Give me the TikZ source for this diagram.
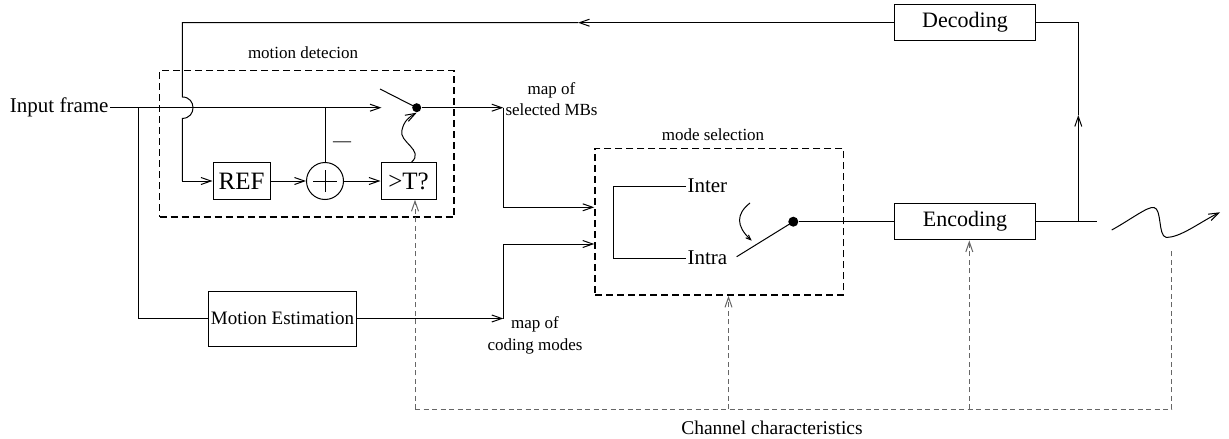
\documentclass[tikz,border=0pt]{standalone}
\usepackage{fontspec}
\setmainfont{Liberation Serif}
\usetikzlibrary{arrows.meta,positioning,calc}
\newcommand{\fsz}[2]{\fontsize{#1}{#2}\selectfont}
\tikzset{
  blk/.style={draw,line width=1pt,minimum height=36.5pt,inner sep=0pt},
  lbl/.style={inner sep=1pt,align=center},
  grp/.style={draw,line width=1.6pt,dash pattern=on 7pt off 4pt,inner sep=0pt},
  ar/.style={-{Straight Barb[length=10pt,width=7pt]},line width=1pt},
  chan/.style={draw=black!60,line width=1pt,dash pattern=on 5pt off 3.5pt},
  dotnode/.style={circle,fill,inner sep=0pt,minimum size=#1},
}
\begin{document}
\begin{tikzpicture}[x=1pt,y=1pt,line width=1pt]
\useasboundingbox (0,0) rectangle (1229,-439);

% groups
\node[grp,minimum width=294.5pt,minimum height=146.5pt] (det) at (306.75,-143.75) {};
\node[lbl,font=\fsz{17}{20}] (detlbl) at (303,-53) {motion detecion};
\node[grp,minimum width=248.3pt,minimum height=146.7pt] (msel) at (719.2,-221.7) {};
\node[lbl,font=\fsz{17}{20}] (msellbl) at (713,-135) {mode selection};

% blocks
\node[blk,minimum width=57pt,font=\fsz{25}{30}] (ref) at (241.5,-181) {REF};
\node[circle,draw,minimum size=37pt,inner sep=0pt] (sum) at (325,-181) {};
\draw (sum.center) ++(-12,0) -- ++(24,0);
\draw (sum.center) ++(0,-11) -- ++(0,22);
\node[blk,minimum width=55pt,font=\fsz{25}{30}] (thr) at (408.5,-181) {>T?};
\node[blk,minimum width=148pt,minimum height=55pt,font=\fsz{19}{23}] (me) at (282.5,-318.5) {Motion Estimation};
\node[blk,minimum width=141pt,font=\fsz{22}{26}] (enc) at (965,-221.7) {Encoding};
\node[blk,minimum width=141pt,font=\fsz{22}{26}] (dec) at (965,-22.7) {Decoding};

% input and motion detection
\node[lbl,anchor=east,font=\fsz{21}{25}] (inp) at (110,-107.7) {Input frame};
\coordinate (split) at (138,-107.7);
\coordinate (hopT) at (182.3,-97);
\coordinate (hopB) at (182.3,-118.4);
\coordinate (swin) at (381.5,-107.7);
\coordinate (lever) at (380,-89);
\coordinate (tap) at (325,-107.7);
\node[dotnode=9pt] (dot1) at (416.7,-107.7) {};
\coordinate (selmap) at (503.3,-107.7);
\coordinate (codmap) at (503.3,-318.5);
\node[lbl,font=\fsz{18}{20}] (minus) at (342,-144) {---};

\draw[ar] (inp.east) -- (swin);
\draw (lever) -- (dot1.center);
\draw (tap) -- (sum.north);
\draw[ar] (ref) -- (sum);
\draw[ar] (sum) -- (thr);
\draw[ar] ($(thr.north)+(3,0)$) .. controls (425,-150) and (398,-142) .. (402,-130) .. controls (404,-121) and (409,-117) .. (dot1.south);
\draw[ar] (dot1) -- (selmap);
\draw[ar] (selmap) |- ($(msel.west)+(0,14.4)$);
\draw (split) |- (me.west);
\draw[ar] (me.east) -- (codmap);
\draw[ar] (codmap) |- ($(msel.west)+(0,-22.3)$);
\node[lbl,anchor=west,font=\fsz{17}{21}] (sellbl) at (504,-99) {map of\\selected MBs};
\node[lbl,font=\fsz{17}{22}] (codlbl) at (535,-335) {map of\\coding modes};

% feedback from decoder
\coordinate (fbarr) at (578,-22.7);
\coordinate (fbcorner) at (182.3,-22.7);
\draw[ar] (dec.west) -- (fbarr);
\draw (fbarr) -- (fbcorner) -- (hopT) .. controls +(14.3,0) and +(14.3,0) .. (hopB) -- (hopB |- ref.west);
\draw[ar] (hopB |- ref.west) -- (ref.west);

% mode selection
\node[lbl,anchor=west,font=\fsz{21}{25}] (inter) at (686,-186) {Inter};
\node[lbl,anchor=west,font=\fsz{21}{25}] (intra) at (686,-258) {Intra};
\draw (inter.west) -- ++(-73,0) |- (intra.west);
\coordinate (swpiv) at (736.7,-256.7);
\node[dotnode=10pt] (dot2) at (793.3,-221.7) {};
\draw (swpiv) -- (dot2.center);
\coordinate (rotA) at (750,-203);
\coordinate (rotB) at (751.7,-240.7);
\draw[-{Straight Barb[length=5pt,width=4pt]}] (rotA) .. controls (736,-214) and (736,-226) .. (rotB);
\draw (dot2) -- (enc.west);

% encoder output and channel
\coordinate (junc) at (1078.3,-221.7);
\coordinate (txout) at (1097.3,-221.7);
\coordinate (uparr) at (1078.3,-115);
\draw (enc.east) -- (txout);
\draw[ar] (junc) -- (uparr);
\draw (uparr) |- (dec.east);
\coordinate (wvA) at (1111.7,-230);
\coordinate (wvB) at (1220,-212.3);
\draw[ar] (wvA) .. controls (1130,-220) and (1148,-206) .. (1154,-207.5) .. controls (1162,-209) and (1158,-236) .. (1166,-237.3) .. controls (1180,-238) and (1200,-222) .. (wvB);

% channel characteristics
\coordinate (ch1) at (415,-409.3);
\coordinate (ch2) at (728.5,-409.3);
\coordinate (ch3) at (969.3,-409.3);
\coordinate (ch4) at (1171.5,-409.3);
\coordinate (ch4top) at (1171.5,-248);
\draw[chan] (ch1) -- (ch4) -- (ch4top);
\draw[chan,ar] (ch1) -- (ch1 |- thr.south);
\draw[chan,ar] (ch2) -- (ch2 |- msel.south);
\draw[chan,ar] (ch3) -- (ch3 |- enc.south);
\node[lbl,font=\fsz{19.5}{23}] (chlbl) at (772,-428) {Channel characteristics};
\end{tikzpicture}
\end{document}
